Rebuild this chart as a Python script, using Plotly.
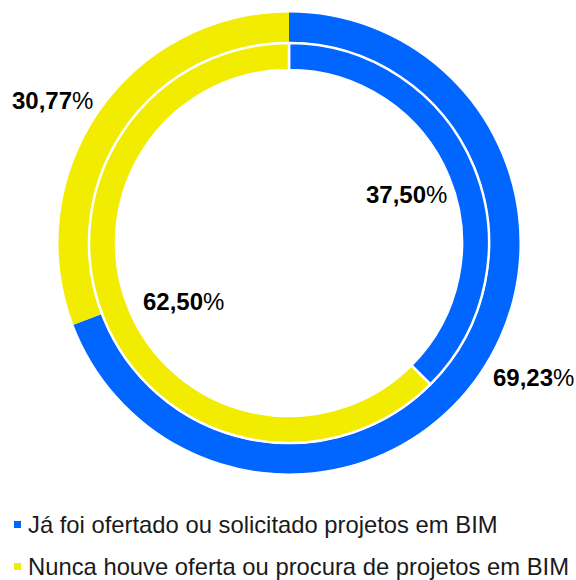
import plotly.graph_objects as go

# Series
categories = [
    "Já foi ofertado ou solicitado projetos em BIM",
    "Nunca houve oferta ou procura de projetos em BIM",
]
outer_values = [69.23, 30.77]
inner_values = [37.50, 62.50]
colors = ["#0066FF", "#F2EC00"]

W, H = 576, 580
CX, CY = 289, 243


def px_x(x):
    return x / W


def px_y(y):
    return 1 - y / H


def domain(radius):
    return dict(
        x=[px_x(CX - radius), px_x(CX + radius)],
        y=[px_y(CY + radius), px_y(CY - radius)],
    )


def fmt(v):
    return f"{v:.2f}".replace(".", ",")


fig = go.Figure()

# Outer ring
fig.add_trace(go.Pie(
    labels=categories,
    values=outer_values,
    hole=201 / 230.5,
    domain=domain(230.5),
    sort=False,
    direction="clockwise",
    rotation=0,
    marker=dict(colors=colors, line=dict(width=0)),
    textinfo="none",
    hoverinfo="label+percent",
    showlegend=False,
))

# Inner ring
fig.add_trace(go.Pie(
    labels=categories,
    values=inner_values,
    hole=173 / 200,
    domain=domain(200),
    sort=False,
    direction="clockwise",
    rotation=0,
    marker=dict(colors=colors, line=dict(color="white", width=2.5)),
    textinfo="none",
    hoverinfo="label+percent",
    showlegend=False,
))

# Value labels (pixel centres of each label)
label_pos_outer = [(533, 377), (52, 101)]
label_pos_inner = [(406, 194), (183, 301)]

annotations = []
for vals, positions in ((outer_values, label_pos_outer), (inner_values, label_pos_inner)):
    for v, (lx, ly) in zip(vals, positions):
        annotations.append(dict(
            x=px_x(lx), y=px_y(ly), xref="paper", yref="paper",
            text=f"<b>{fmt(v)}</b>%", showarrow=False,
            xanchor="center", yanchor="middle",
            font=dict(family="Liberation Sans, Arial, sans-serif", size=24, color="#000000"),
        ))

# Legend drawn as swatches + text
legend_rows = [524, 566]
shapes = []
for cat, col, ly in zip(categories, colors, legend_rows):
    annotations.append(dict(
        x=px_x(26), y=px_y(ly), xref="paper", yref="paper",
        text=cat, showarrow=False, xanchor="left", yanchor="middle",
        font=dict(family="Liberation Sans, Arial, sans-serif", size=23.8, color="#1a1a1a"),
    ))
    shapes.append(dict(
        type="rect", xref="paper", yref="paper",
        x0=px_x(14), x1=px_x(21), y0=px_y(ly + 4), y1=px_y(ly - 3),
        fillcolor=col, line=dict(width=0),
    ))

fig.update_layout(
    width=W, height=H,
    margin=dict(l=0, r=0, t=0, b=0),
    paper_bgcolor="white",
    plot_bgcolor="white",
    annotations=annotations,
    shapes=shapes,
)

fig.write_html("out.html")
